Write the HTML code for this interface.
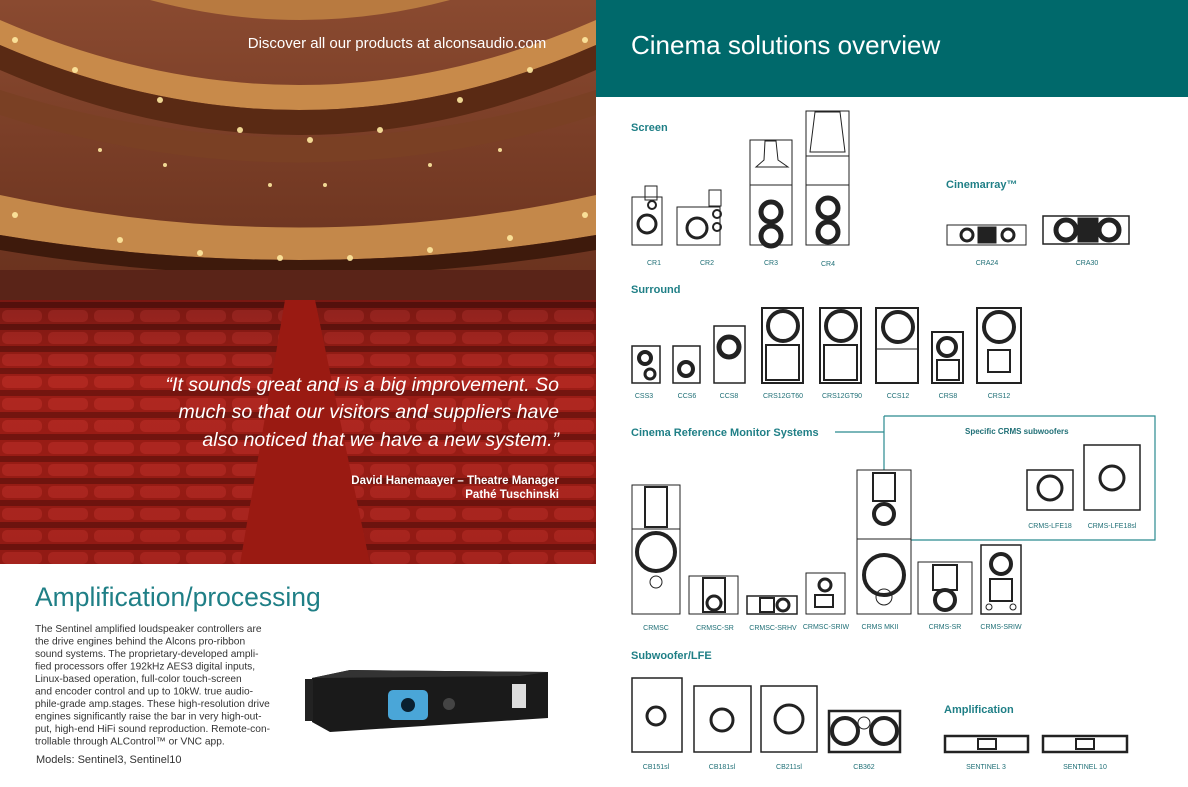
<!DOCTYPE html>
<html><head><meta charset="utf-8"><style>
body{margin:0;width:1188px;height:782px;overflow:hidden;background:#fff;font-family:"Liberation Sans",sans-serif}
svg text{font-family:"Liberation Sans",sans-serif}
</style></head><body>
<svg width="1188" height="782" viewBox="0 0 1188 782" xmlns="http://www.w3.org/2000/svg">
<defs>
<linearGradient id="seat" x1="0" y1="0" x2="0" y2="1">
<stop offset="0" stop-color="#5a1410"/><stop offset="0.3" stop-color="#a01f17"/><stop offset="1" stop-color="#8a1812"/></linearGradient>
<linearGradient id="upper" x1="0" y1="0" x2="0" y2="1">
<stop offset="0" stop-color="#8a4a30"/><stop offset="0.5" stop-color="#6a321e"/><stop offset="1" stop-color="#4e2216"/></linearGradient>
<pattern id="rows" width="46" height="22" patternUnits="userSpaceOnUse">
<rect width="46" height="22" fill="#981c15"/><rect x="2" y="2" width="40" height="12" rx="5" fill="#c0302a"/><rect x="0" y="16" width="46" height="6" fill="#4a0c08"/></pattern>
</defs>
<rect x="0" y="0" width="596" height="564" fill="url(#upper)"/>
<path d="M150 0 Q300 40 450 0 Z" fill="#b87a40"/>
<path d="M0 20 Q300 150 596 20 L596 45 Q300 175 0 45Z" fill="#c88a4a"/>
<path d="M0 45 Q300 175 596 45 L596 70 Q300 200 0 70Z" fill="#5a2a14"/>
<path d="M0 90 Q300 185 596 90 L596 115 Q300 210 0 115Z" fill="#7a4024"/>
<path d="M0 195 Q300 260 596 195 L596 235 Q300 285 0 235Z" fill="#c4884a"/>
<path d="M0 235 Q300 285 596 235 L596 250 Q300 300 0 250Z" fill="#3e1a0c"/>
<rect x="0" y="270" width="596" height="40" fill="#5a2418"/>
<rect x="0" y="300" width="596" height="264" fill="url(#rows)"/>
<rect x="0" y="300" width="596" height="264" fill="url(#seat)" opacity="0.5"/>
<path d="M285 300 L315 300 L370 564 L240 564Z" fill="#9a1a12"/>
<g fill="#ffe9a0" opacity="0.9">
<circle cx="15" cy="40" r="3"/><circle cx="75" cy="70" r="3"/><circle cx="160" cy="100" r="3"/><circle cx="240" cy="130" r="3"/><circle cx="310" cy="140" r="3"/><circle cx="380" cy="130" r="3"/><circle cx="460" cy="100" r="3"/><circle cx="530" cy="70" r="3"/><circle cx="585" cy="40" r="3"/>
<circle cx="15" cy="215" r="3"/><circle cx="120" cy="240" r="3"/><circle cx="200" cy="253" r="3"/><circle cx="280" cy="258" r="3"/><circle cx="350" cy="258" r="3"/><circle cx="430" cy="250" r="3"/><circle cx="510" cy="238" r="3"/><circle cx="585" cy="215" r="3"/>
<circle cx="100" cy="150" r="2"/><circle cx="165" cy="165" r="2"/><circle cx="270" cy="185" r="2"/><circle cx="325" cy="185" r="2"/><circle cx="430" cy="165" r="2"/><circle cx="500" cy="150" r="2"/>
</g>
<text x="397" y="48" text-anchor="middle" font-size="15" fill="#fff">Discover all our products at alconsaudio.com</text>
<g font-size="19.5" font-style="italic" fill="#fff" text-anchor="end">
<text x="559" y="391">“It sounds great and is a big improvement. So</text>
<text x="559" y="418">much so that our visitors and suppliers have</text>
<text x="559" y="446">also noticed that we have a new system.”</text></g>
<g font-size="11.5" font-weight="bold" fill="#fff" text-anchor="end">
<text x="559" y="484">David Hanemaayer – Theatre Manager</text>
<text x="559" y="498">Pathé Tuschinski</text></g>
<text x="35" y="606" font-size="26.5" fill="#1f7f86">Amplification/processing</text>
<g font-size="10.2" fill="#333">
<text x="35" y="632">The Sentinel amplified loudspeaker controllers are</text>
<text x="35" y="644.5">the drive engines behind the Alcons pro-ribbon</text>
<text x="35" y="657">sound systems. The proprietary-developed ampli-</text>
<text x="35" y="669.5">fied processors offer 192kHz AES3 digital inputs,</text>
<text x="35" y="682">Linux-based operation, full-color touch-screen</text>
<text x="35" y="694.5">and encoder control and up to 10kW. true audio-</text>
<text x="35" y="707">phile-grade amp.stages. These high-resolution drive</text>
<text x="35" y="719.5">engines significantly raise the bar in very high-out-</text>
<text x="35" y="732">put, high-end HiFi sound reproduction. Remote-con-</text>
<text x="35" y="744.5">trollable through ALControl™ or VNC app.</text>
<text x="36" y="763" font-size="11">Models: Sentinel3, Sentinel10</text></g>
<path d="M312 678 L350 670 L548 672 L548 718 L330 732 L312 722Z" fill="#1a1a1a"/>
<path d="M312 678 L350 670 L548 672 L520 676 Z" fill="#333"/>
<rect x="305" y="679" width="8" height="42" fill="#222"/>
<rect x="388" y="690" width="40" height="30" rx="5" fill="#4aa6d8"/>
<circle cx="408" cy="705" r="7" fill="#0a2030"/>
<circle cx="449" cy="704" r="6" fill="#444"/>
<rect x="512" y="684" width="14" height="24" fill="#ddd"/>
<rect x="596" y="0" width="592" height="97" fill="#00696b"/>
<text x="631" y="54" font-size="26" fill="#fff">Cinema solutions overview</text>
<g font-size="11" font-weight="bold" fill="#1f7f86">
<text x="631" y="131">Screen</text>
<text x="946" y="188">Cinemarray™</text>
<text x="631" y="293">Surround</text>
<text x="631" y="436">Cinema Reference Monitor Systems</text>
<text x="631" y="659">Subwoofer/LFE</text>
<text x="944" y="713">Amplification</text>
<text x="965" y="434" font-size="8" fill="#1f6f76">Specific CRMS subwoofers</text></g>
<path d="M835 432 H884 M884 416 H1155 V540 H911 M884 416 V470" stroke="#2a8a8f" stroke-width="1.2" fill="none"/>
<g font-size="7" fill="#1f6f76" text-anchor="middle">
<text x="654" y="265">CR1</text><text x="707" y="265">CR2</text><text x="771" y="265">CR3</text><text x="828" y="266">CR4</text>
<text x="987" y="265">CRA24</text><text x="1087" y="265">CRA30</text>
<text x="644" y="398">CSS3</text><text x="687" y="398">CCS6</text><text x="729" y="398">CCS8</text><text x="783" y="398">CRS12GT60</text><text x="842" y="398">CRS12GT90</text><text x="898" y="398">CCS12</text><text x="948" y="398">CRS8</text><text x="999" y="398">CRS12</text>
<text x="656" y="630">CRMSC</text><text x="715" y="630">CRMSC-SR</text><text x="773" y="630">CRMSC-SRHV</text><text x="826" y="629">CRMSC-SRIW</text><text x="880" y="629">CRMS MKII</text><text x="945" y="629">CRMS-SR</text><text x="1001" y="629">CRMS-SRIW</text>
<text x="1050" y="528">CRMS-LFE18</text><text x="1112" y="528">CRMS-LFE18sl</text>
<text x="656" y="769">CB151sl</text><text x="722" y="769">CB181sl</text><text x="789" y="769">CB211sl</text><text x="864" y="769">CB362</text>
<text x="986" y="769">SENTINEL 3</text><text x="1085" y="769">SENTINEL 10</text></g>
<g fill="none" stroke="#222" stroke-width="1">
<rect x="632" y="197" width="30" height="48"/><rect x="645" y="186" width="12" height="14"/><circle cx="647" cy="224" r="9" stroke-width="3"/><circle cx="652" cy="205" r="4" stroke-width="2"/>
<rect x="677" y="207" width="43" height="38"/><rect x="709" y="190" width="12" height="16"/><circle cx="697" cy="228" r="10" stroke-width="3"/><circle cx="717" cy="214" r="4" stroke-width="2"/><circle cx="717" cy="227" r="4" stroke-width="2"/>
<rect x="750" y="140" width="42" height="105"/><line x1="750" y1="185" x2="792" y2="185"/><path d="M765 141 L776 141 L778 160 L788 167 L756 167 L764 160Z"/><circle cx="771" cy="212" r="10" stroke-width="5"/><circle cx="771" cy="236" r="10" stroke-width="5"/>
<rect x="806" y="111" width="43" height="134"/><line x1="806" y1="185" x2="849" y2="185"/><line x1="806" y1="156" x2="849" y2="156"/><path d="M815 112 L840 112 L845 152 L810 152Z"/><circle cx="828" cy="208" r="10" stroke-width="5"/><circle cx="828" cy="232" r="10" stroke-width="5"/>
<rect x="947" y="225" width="79" height="20"/><circle cx="967" cy="235" r="6" stroke-width="3"/><circle cx="1008" cy="235" r="6" stroke-width="3"/><rect x="978" y="227" width="18" height="16" fill="#222"/>
<rect x="1043" y="216" width="86" height="28" stroke-width="1.5"/><circle cx="1066" cy="230" r="10" stroke-width="5"/><circle cx="1109" cy="230" r="10" stroke-width="5"/><rect x="1078" y="218" width="20" height="24" fill="#222"/>
<rect x="632" y="346" width="28" height="37" stroke-width="1.5"/><circle cx="645" cy="358" r="6" stroke-width="4"/><circle cx="650" cy="374" r="5" stroke-width="3"/>
<rect x="673" y="346" width="27" height="37" stroke-width="1.5"/><circle cx="686" cy="369" r="7" stroke-width="4"/>
<rect x="714" y="326" width="31" height="57" stroke-width="1.5"/><circle cx="729" cy="347" r="10" stroke-width="5"/>
<rect x="762" y="308" width="41" height="75" stroke-width="2"/><circle cx="783" cy="326" r="15" stroke-width="4"/><rect x="766" y="345" width="33" height="35" stroke-width="2"/>
<rect x="820" y="308" width="41" height="75" stroke-width="2"/><circle cx="841" cy="326" r="15" stroke-width="4"/><rect x="824" y="345" width="33" height="35" stroke-width="2"/>
<rect x="876" y="308" width="42" height="75" stroke-width="2"/><circle cx="898" cy="327" r="15" stroke-width="4"/><line x1="876" y1="349" x2="918" y2="349"/>
<rect x="932" y="332" width="31" height="51" stroke-width="2"/><circle cx="947" cy="347" r="9" stroke-width="4"/><rect x="937" y="360" width="22" height="20" stroke-width="2"/>
<rect x="977" y="308" width="44" height="75" stroke-width="2"/><circle cx="999" cy="327" r="15" stroke-width="4"/><rect x="988" y="350" width="22" height="22" stroke-width="2"/>
<rect x="632" y="485" width="48" height="129"/><line x1="632" y1="529" x2="680" y2="529"/><rect x="645" y="487" width="22" height="40" stroke-width="2"/><circle cx="656" cy="552" r="19" stroke-width="4"/><circle cx="656" cy="582" r="6"/>
<rect x="689" y="576" width="49" height="38"/><rect x="703" y="578" width="22" height="34" stroke-width="2"/><circle cx="714" cy="603" r="7" stroke-width="3"/>
<rect x="747" y="596" width="50" height="18" stroke-width="1.5"/><rect x="760" y="598" width="14" height="14" stroke-width="2"/><circle cx="783" cy="605" r="6" stroke-width="3"/>
<rect x="806" y="573" width="39" height="41"/><circle cx="825" cy="585" r="6" stroke-width="3"/><rect x="815" y="595" width="18" height="12" stroke-width="2"/>
<rect x="857" y="470" width="54" height="144"/><line x1="857" y1="539" x2="911" y2="539"/><rect x="873" y="473" width="22" height="28" stroke-width="2"/><circle cx="884" cy="514" r="10" stroke-width="4"/><circle cx="884" cy="575" r="20" stroke-width="4"/><circle cx="884" cy="597" r="8"/>
<rect x="918" y="562" width="54" height="52"/><rect x="933" y="565" width="24" height="25" stroke-width="2"/><circle cx="945" cy="600" r="10" stroke-width="4"/>
<rect x="981" y="545" width="40" height="69" stroke-width="1.5"/><circle cx="1001" cy="564" r="10" stroke-width="4"/><rect x="990" y="579" width="22" height="22" stroke-width="2"/><circle cx="989" cy="607" r="3"/><circle cx="1013" cy="607" r="3"/>
<rect x="1027" y="470" width="46" height="40" stroke-width="1.5"/><circle cx="1050" cy="488" r="12" stroke-width="3"/>
<rect x="1084" y="445" width="56" height="65" stroke-width="1.5"/><circle cx="1112" cy="478" r="12" stroke-width="3"/>
<rect x="632" y="678" width="50" height="74" stroke-width="1.5"/><circle cx="656" cy="716" r="9" stroke-width="3"/>
<rect x="694" y="686" width="57" height="66" stroke-width="1.5"/><circle cx="722" cy="720" r="11" stroke-width="3"/>
<rect x="761" y="686" width="56" height="66" stroke-width="1.5"/><circle cx="789" cy="719" r="14" stroke-width="3"/>
<rect x="829" y="711" width="71" height="41" stroke-width="2.5"/><circle cx="845" cy="731" r="13" stroke-width="4"/><circle cx="884" cy="731" r="13" stroke-width="4"/><circle cx="864" cy="723" r="6"/>
<rect x="945" y="736" width="83" height="16" stroke-width="2.5"/><rect x="978" y="739" width="18" height="10" stroke-width="2"/>
<rect x="1043" y="736" width="84" height="16" stroke-width="2.5"/><rect x="1076" y="739" width="18" height="10" stroke-width="2"/>
</g>
</svg>
</body></html>
